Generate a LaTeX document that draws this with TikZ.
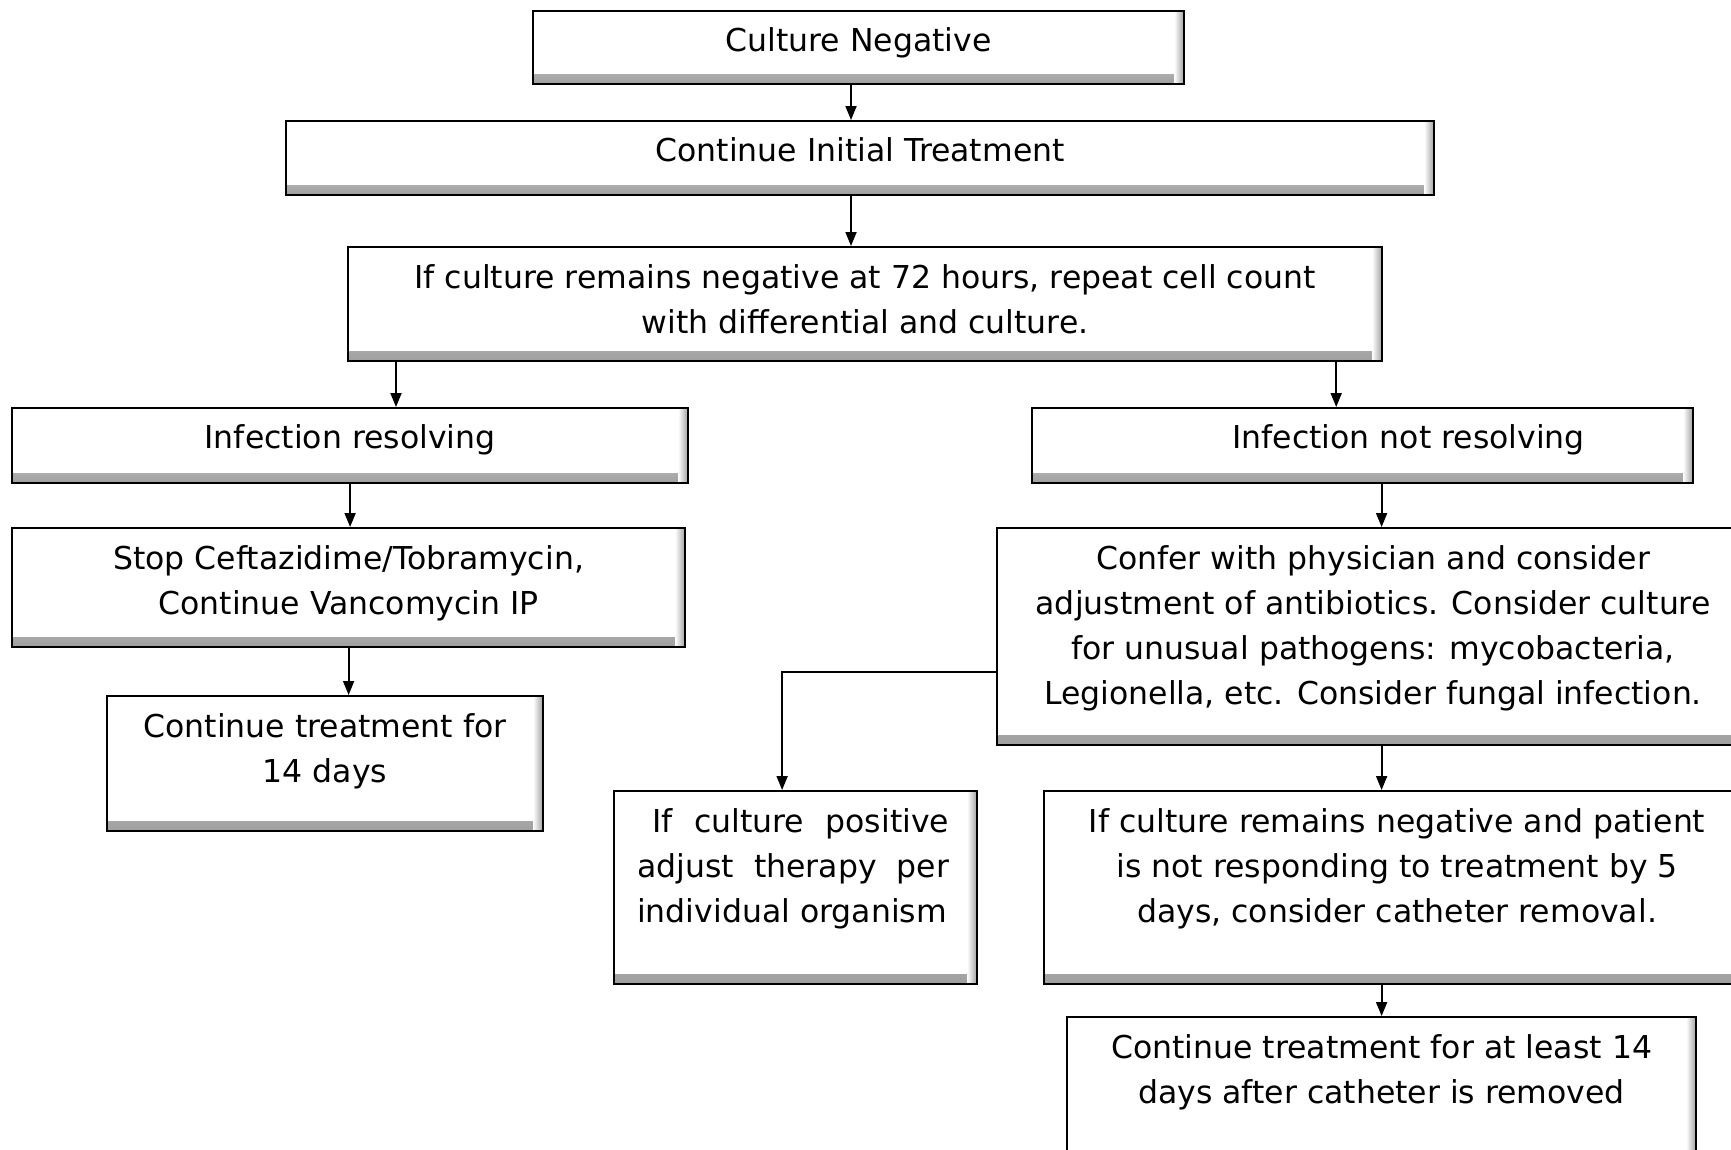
\documentclass[tikz,border=0pt]{standalone}
\usepackage{fontspec}
\setmainfont{DejaVu Sans}
\usetikzlibrary{arrows.meta, calc}
\tikzset{%
  box/.style={draw, line width=2.2pt, anchor=north west, inner sep=0pt,
              path picture={
                \fill[top color=white, bottom color=gray!75]
                  (path picture bounding box.south west) rectangle ([yshift=10pt]path picture bounding box.south east);
                \fill[left color=white, right color=gray!75]
                  ([xshift=-10pt]path picture bounding box.south east) rectangle (path picture bounding box.north east);
              }},
  txt/.style={anchor=north, inner sep=0pt, align=center,
              font=\fontsize{31.5}{45}\selectfont, execute at begin node=\strut},
  multi/.style={yshift=-9pt},
  arr/.style={line width=1.8pt, -{Triangle[length=14pt, width=11pt]}},
}

\begin{document}
\begin{tikzpicture}[x=1pt, y=-1pt]
\useasboundingbox (0,0) rectangle (1731,1149);

% boxes
\node[box, minimum width=651pt, minimum height=73pt] (b1) at (532,10) {};
\node[box, minimum width=1148pt, minimum height=74pt] (b2) at (285,120) {};
\node[box, minimum width=1034pt, minimum height=114pt] (b3) at (347,246) {};
\node[box, minimum width=676pt, minimum height=75pt] (b4) at (11,407) {};
\node[box, minimum width=661pt, minimum height=75pt] (b5) at (1031,407) {};
\node[box, minimum width=673pt, minimum height=119pt] (b6) at (11,527) {};
\node[box, minimum width=436pt, minimum height=135pt] (b7) at (106,695) {};
\node[box, minimum width=752pt, minimum height=217pt] (b8) at (996,527) {};
\node[box, minimum width=363pt, minimum height=193pt] (b9) at (613,790) {};
\node[box, minimum width=706pt, minimum height=193pt] (b10) at (1043,790) {};
\node[box, minimum width=629pt, minimum height=145pt] (b11) at (1066,1016) {};

% texts
\node[txt] (t1) at ([yshift=-9.5pt]b1.north) {Culture Negative};
\node[txt] (t2) at ([yshift=-9.5pt]b2.north) {Continue Initial Treatment};
\node[txt, multi] (t3) at ([yshift=-9.5pt]b3.north) {If culture remains negative at 72 hours, repeat cell count\\with differential and culture.};
\node[txt] (t4) at ([yshift=-9.5pt]b4.north) {Infection resolving};
\node[txt] (t5) at ([xshift=46pt, yshift=-9.5pt]b5.north) {Infection not resolving};
\node[txt, multi] (t6) at ([yshift=-9.5pt]b6.north) {Stop Ceftazidime/Tobramycin,\\Continue Vancomycin IP};
\node[txt, multi] (t7) at ([yshift=-9.5pt]b7.north) {Continue treatment for\\14 days};
\node[txt, multi] (t8) at ([yshift=-9.5pt]b8.north) {Confer with physician and consider\\adjustment of antibiotics. Consider culture\\for unusual pathogens: mycobacteria,\\Legionella, etc. Consider fungal infection.};
\node[txt, multi, anchor=north west, align=left] (t9) at (637,799.5)
  {\hspace*{15pt}\makebox[297pt][s]{If culture positive}\\\makebox[312pt][s]{adjust therapy per}\\individual organism};
\node[txt, multi] (t10) at ([yshift=-9.5pt]b10.north) {If culture remains negative and patient\\is not responding to treatment by 5\\days, consider catheter removal.};
\node[txt, multi] (t11) at ([yshift=-9.5pt]b11.north) {Continue treatment for at least 14\\days after catheter is removed};

% arrows
\draw[arr] (b1.south -| 851,0) -- (b2.north -| 851,0);
\draw[arr] (b2.south -| 851,0) -- (b3.north -| 851,0);
\draw[arr] ([xshift=49pt]b3.south west) -- ([xshift=49pt]b3.south west |- b4.north);
\draw[arr] ([xshift=-47pt]b3.south east) -- ([xshift=-47pt]b3.south east |- b5.north);
\draw[arr] (b4.south) -- (b4.south |- b6.north);
\draw[arr] (b6.south) -- (b6.south |- b7.north);
\draw[arr] ([xshift=19pt]b5.south) -- ([xshift=19pt]b5.south |- b8.north);
\draw[arr] ([yshift=-35pt]b8.west) -| ([xshift=-13.5pt]b9.north);
\draw[arr] (b8.south -| b11.north) -- (b10.north -| b11.north);
\draw[arr] (b10.south -| b11.north) -- (b11.north);

\end{tikzpicture}
\end{document}
